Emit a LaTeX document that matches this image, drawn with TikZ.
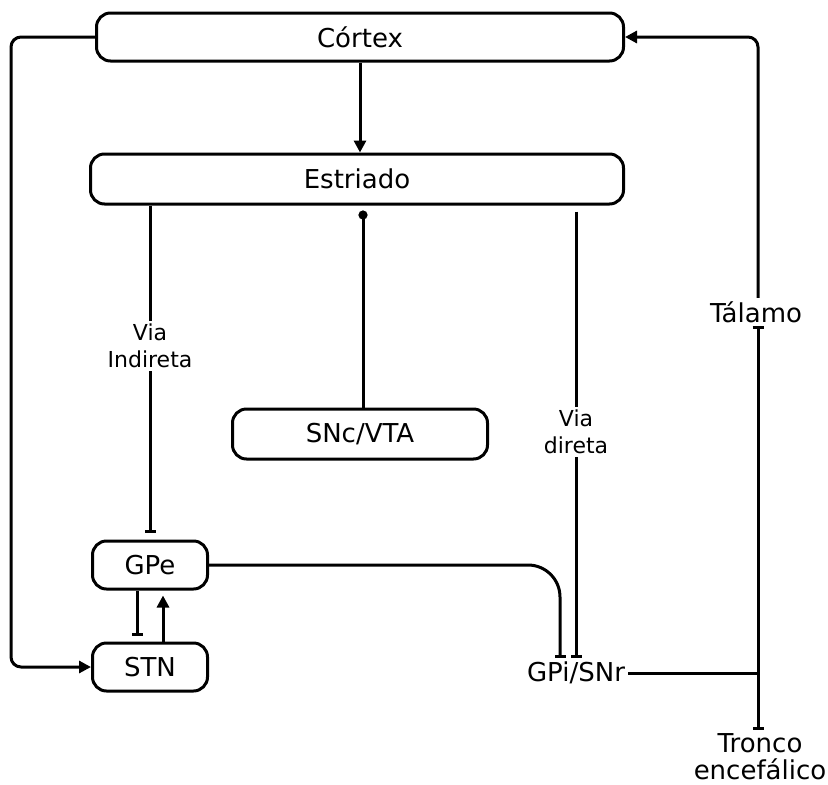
\documentclass[tikz,border=0pt]{standalone}
\usepackage{fontspec}
\setmainfont{DejaVu Sans}
\usepackage{tikz}
\usetikzlibrary{positioning,arrows.meta}

\begin{document}
\begin{tikzpicture}[x=1pt, y=-1pt, line width=3pt, >={Triangle[length=12pt,width=12pt]},
  every node/.style={font=\fontsize{26}{27}\selectfont}]
\tikzstyle{block}=[rectangle, draw, rounded corners=14pt, align=center, minimum height=48pt, inner sep=0pt]
\tikzstyle{via}=[fill=white, align=center, font=\fontsize{22}{27}\selectfont, inner sep=3pt]
\tikzstyle{inhib}=[-{Bar[width=11pt]}]
\useasboundingbox (0,0) rectangle (828,785);
% nucleos
\node[block, minimum width=527pt] (cortex) at (360,37) {Córtex};
\node[block, minimum width=533pt, minimum height=50pt] (estriado) at (357,179) {Estriado};
\node[block, minimum width=255pt, minimum height=50pt] (snc) at (360,434) {SNc/VTA};
\node[block, minimum width=115pt] (gpe) at (150,565) {GPe};
\node[block, minimum width=115pt, below=51pt of gpe] (stn) {STN};
\node[inner sep=2pt] (gpi) at (576,673) {GPi/SNr};
\node[inner sep=2pt] (talamo) at (756,312) {Tálamo};
\node[align=center, inner sep=2pt] (tronco) at (760,757) {Tronco\\encefálico};
\coordinate (jct) at (758,673);
% conexoes
\draw[->] (cortex.south -| 360,0) -- (estriado.north -| 360,0);
\draw[->, rounded corners=10pt] (cortex.west) -- ++(-84,0) |- (stn.west);
\draw[->, rounded corners=10pt] (talamo.north -| jct) |- (cortex.east);
\draw[inhib, shorten >=7pt] (gpe.north |- estriado.south) -- node[via, pos=0.42] {Via\\Indireta} (gpe.north);
\draw[-{Circle[length=9pt]}, shorten >=5pt] (snc.north -| 363,0) -- (estriado.south -| 363,0);
\draw[inhib, shorten <=6pt] (gpi.north |- estriado.south) -- node[via, pos=0.5] {Via\\direta} (gpi.north);
\draw[inhib, rounded corners=32pt] (gpe.east) -| ([xshift=-16pt]gpi.north);
\draw[inhib, shorten >=6pt] ([xshift=-13pt]gpe.south) -- ([xshift=-13pt]stn.north);
\draw[->, shorten >=5pt] ([xshift=13pt]stn.north) -- ([xshift=13pt]gpe.south);
\draw (gpi.east) -- (jct);
\draw[inhib] (jct) -- (talamo.south -| jct);
\draw[inhib] (jct) -- (tronco.north -| jct);
\end{tikzpicture}
\end{document}
